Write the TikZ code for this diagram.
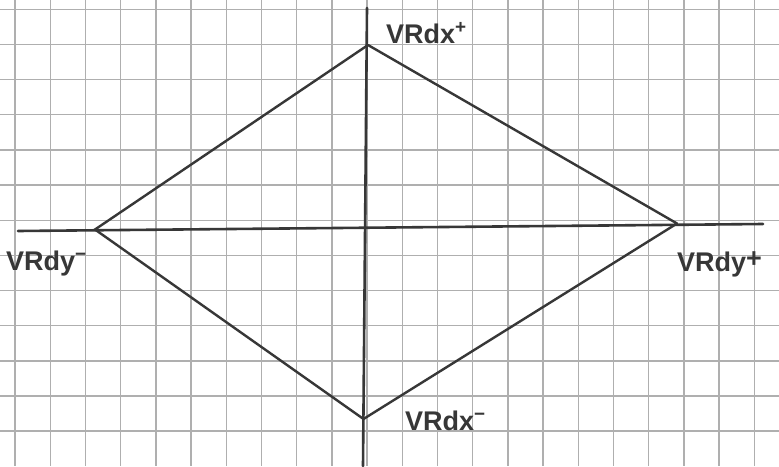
\documentclass[tikz,border=0pt]{standalone}
\usepackage{fontspec}
\setmainfont{Liberation Sans}
\definecolor{gridc}{RGB}{175,175,175}
\definecolor{ink}{RGB}{55,55,55}
\tikzset{
  gridline/.style={draw=gridc, line width=1.4pt},
  axis/.style={draw=ink, line width=2.6pt, line cap=round},
  edge/.style={draw=ink, line width=2.4pt, line join=round, line cap=round},
  lbl/.style={text=ink, font=\fontsize{27}{30}\selectfont\bfseries, inner sep=0pt, anchor=base west}
}
\begin{document}
\begin{tikzpicture}[x=1pt,y=-1pt]
\useasboundingbox[fill=white] (0,0) rectangle (779,466);
% grid
\foreach \k in {0,...,21} {\draw[gridline] ({15+35.2*\k},0) -- ({15+35.2*\k},466);}
\foreach \k in {0,...,12} {\draw[gridline] (0,{9.3+35.15*\k}) -- (779,{9.3+35.15*\k});}
% axes ends
\coordinate (ytop) at (367,8);
\coordinate (ybot) at (363,466);
\coordinate (xleft) at (18,231);
\coordinate (xright) at (763,224);
\draw[axis] (ytop) -- (ybot);
\draw[axis] (xleft) -- (xright);
% diamond vertices
\coordinate (T) at (368,45);
\coordinate (L) at (95,229.5);
\coordinate (R) at (677,223.5);
\coordinate (B) at (363.5,419);
\draw[edge] (T) -- (R) -- (B) -- (L) -- cycle;
% labels
\node[lbl] (lT) at (386,43) {VRdx\textsuperscript{+}};
\node[lbl] (lL) at (6,270) {VRdy\textsuperscript{−}};
\node[lbl] (lR) at (677,271) {VRdy\raisebox{4pt}{+}};
\node[lbl] (lB) at (405,430) {VRdx\textsuperscript{−}};
\end{tikzpicture}
\end{document}
